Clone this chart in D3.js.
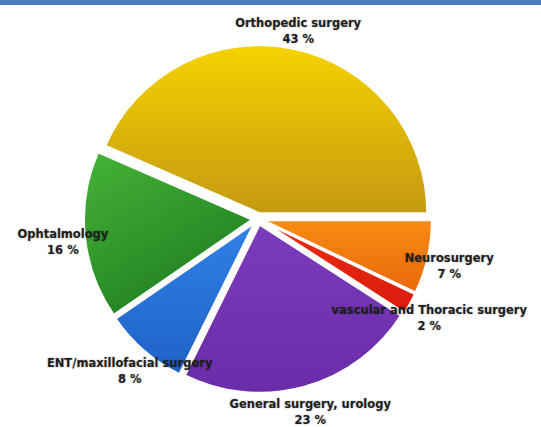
<!DOCTYPE html>
<html>
<head>
<meta charset="utf-8">
<script src="https://cdn.jsdelivr.net/npm/d3@7"></script>
<style>
  html, body { margin: 0; padding: 0; background: #fff; }
  svg { display: block; }
  .lbl { font-family: "DejaVu Sans", sans-serif; font-weight: bold; font-size: 11.5px; fill: #1e1e1e;
         text-shadow: 0 0 2px rgba(0,0,0,0.35); }
</style>
</head>
<body>
<svg id="chart" width="541" height="427"></svg>
<script>
// ---- data ----
const categories = ["Neurosurgery", "vascular and Thoracic surgery", "General surgery, urology",
                    "ENT/maxillofacial surgery", "Ophtalmology", "Orthopedic surgery"];
const values = [7, 2, 23, 8, 16, 43];
const percentLabels = ["7 %", "2 %", "23 %", "8 %", "16 %", "43 %"];
// colour stops per slice (light, dark)
const colorsLight = ["#f88c12", "#ec2a12", "#7b3cbc", "#3080e6", "#46b336", "#f6d200"];
const colorsDark  = ["#e8680a", "#d81c0c", "#6a2ca8", "#1f62c6", "#1f7e22", "#c49a12"];

// ---- layout ----
const W = 541, H = 427;
const cx = 258, cy = 219, R = 168, explode = 6, labelR = 196;

const svg = d3.select("#chart");

// top banner
svg.append("rect").attr("x", 0).attr("y", 0).attr("width", W).attr("height", 5).attr("fill", "#4a7ebd");

const defs = svg.append("defs");
categories.forEach((c, i) => {
  const g = defs.append("linearGradient").attr("id", "grad" + i)
    .attr("x1", "0").attr("y1", "0").attr("x2", i === 4 ? "0.6" : "0").attr("y2", "1");
  g.append("stop").attr("offset", "0%").attr("stop-color", colorsLight[i]);
  g.append("stop").attr("offset", "100%").attr("stop-color", colorsDark[i]);
});

const pie = d3.pie().sort(null).value(d => d)
  .startAngle(Math.PI / 2).endAngle(Math.PI / 2 + 2 * Math.PI);
const arcs = pie(values);

const arc = d3.arc().innerRadius(0).outerRadius(R);
const labelArc = d3.arc().innerRadius(labelR).outerRadius(labelR);

const root = svg.append("g").attr("transform", `translate(${cx},${cy})`);

root.selectAll("path.slice").data(arcs).enter().append("path")
  .attr("class", "slice")
  .attr("transform", d => {
    const m = (d.startAngle + d.endAngle) / 2;
    return `translate(${explode * Math.sin(m)},${-explode * Math.cos(m)})`;
  })
  .attr("d", arc)
  .attr("fill", (d, i) => `url(#grad${i})`)
  .attr("stroke", "#fff").attr("stroke-width", 2).attr("stroke-linejoin", "round");

const lab = root.selectAll("g.lab").data(arcs).enter().append("g")
  .attr("class", "lab")
  .attr("transform", d => { const p = labelArc.centroid(d); return `translate(${p[0]},${p[1]})`; });
lab.append("text").attr("class", "lbl").attr("text-anchor", "middle").attr("y", 0)
  .text((d, i) => categories[i]);
lab.append("text").attr("class", "lbl").attr("text-anchor", "middle").attr("y", 16)
  .text((d, i) => percentLabels[i]);
</script>
</body>
</html>
